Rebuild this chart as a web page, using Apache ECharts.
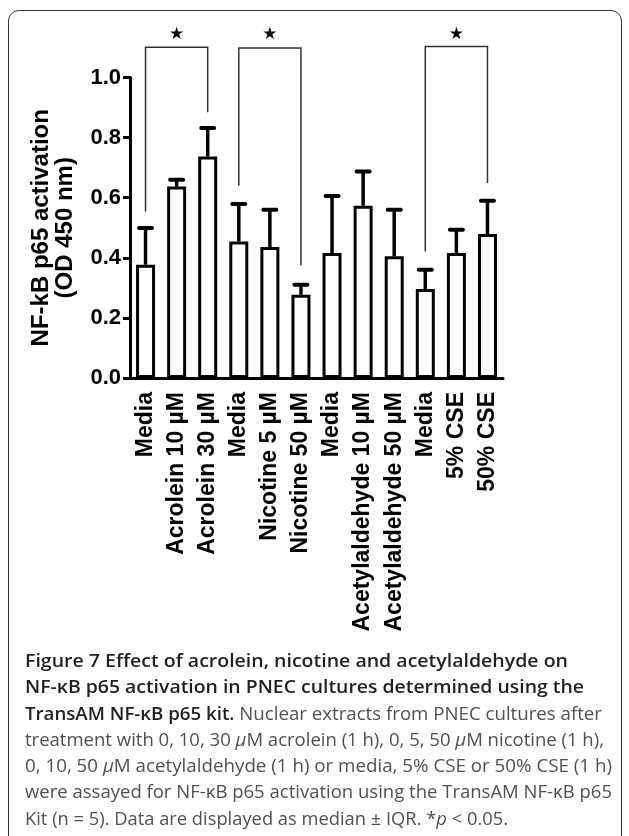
<!DOCTYPE html>
<html>
<head>
<meta charset="utf-8">
<script src="https://cdn.jsdelivr.net/npm/echarts@6/dist/echarts.min.js"></script>
<style>
  html, body { margin: 0; padding: 0; background: #fff; }
  #wrap { position: relative; width: 629px; height: 836px; overflow: hidden; }
  #box { position: absolute; left: 8px; top: 10px; width: 614px; height: 900px;
         border: 1.5px solid #333; border-radius: 11px; box-sizing: border-box; }
  #chart { position: absolute; left: 0; top: 0; width: 629px; height: 836px; }
  #caption { position: absolute; left: 25px; top: 647px; font-family: "Open Sans", "Noto Sans", sans-serif;
             font-size: 18px; line-height: 26.3px; color: #505050; }
  #caption .ln { white-space: nowrap; transform-origin: 0 0; display: block; width: max-content; }
  #caption b { color: #231f20; font-weight: 600; }
</style>
</head>
<body>
<div id="wrap">
  <div id="box"></div>
  <div id="chart"></div>
  <div id="caption">
    <div class="ln" data-w="543"><b>Figure 7 Effect of acrolein, nicotine and acetylaldehyde on</b></div>
    <div class="ln" data-w="559"><b>NF-κB p65 activation in PNEC cultures determined using the</b></div>
    <div class="ln" data-w="577"><b>TransAM NF-κB p65 kit.</b> Nuclear extracts from PNEC cultures after</div>
    <div class="ln" data-w="579">treatment with 0, 10, 30 <i>μ</i>M acrolein (1 h), 0, 5, 50 <i>μ</i>M nicotine (1 h),</div>
    <div class="ln" data-w="587">0, 10, 50 <i>μ</i>M acetylaldehyde (1 h) or media, 5% CSE or 50% CSE (1 h)</div>
    <div class="ln" data-w="587">were assayed for NF-κB p65 activation using the TransAM NF-κB p65</div>
    <div class="ln" data-w="483">Kit (n = 5). Data are displayed as median ± IQR. *<i>p</i> &lt; 0.05.</div>
  </div>
</div>
<script>
// ---- data ----
const categories = ['Media', 'Acrolein 10 µM', 'Acrolein 30 µM', 'Media', 'Nicotine 5 µM', 'Nicotine 50 µM',
                    'Media', 'Acetylaldehyde 10 µM', 'Acetylaldehyde 50 µM', 'Media', '5% CSE', '50% CSE'];
const medians = [0.377, 0.637, 0.737, 0.454, 0.436, 0.277, 0.416, 0.573, 0.405, 0.296, 0.416, 0.479];
const upperIQR = [0.499, 0.66, 0.832, 0.579, 0.56, 0.31, 0.606, 0.687, 0.56, 0.36, 0.493, 0.59];
// significance brackets: [from index, to index, left leg bottom, right leg bottom, bracket top]
const brackets = [
  [0, 2, 0.554, 0.884, 1.101],
  [3, 5, 0.640, 0.374, 1.098],
  [9, 11, 0.421, 0.649, 1.103]
];
const starLevel = 1.142;
const yTicks = [0, 0.2, 0.4, 0.6, 0.8, 1.0];

const FONT = '"Liberation Sans", Arial, sans-serif';
const chart = echarts.init(document.getElementById('chart'), null, { renderer: 'canvas' });

chart.setOption({
  animation: false,
  backgroundColor: 'transparent',
  grid: { left: 130, right: 126, top: 77.5, bottom: 458 },
  xAxis: {
    type: 'category',
    data: categories,
    axisLine: { lineStyle: { color: '#000', width: 3 } },
    axisTick: { alignWithLabel: true, length: 8, lineStyle: { color: '#000', width: 3 } },
    axisLabel: { rotate: 90, interval: 0, margin: 14, color: '#000', fontWeight: 'bold',
                 fontSize: 23, fontFamily: FONT }
  },
  yAxis: {
    type: 'value',
    min: yTicks[0], max: yTicks[yTicks.length - 1], interval: 0.2,
    name: 'NF-kB p65 activation\n(OD 450 nm)',
    nameLocation: 'middle', nameRotate: 90, nameGap: 53,
    nameTextStyle: { color: '#000', fontWeight: 'bold', fontSize: 24, fontFamily: FONT, lineHeight: 24 },
    axisLine: { show: true, lineStyle: { color: '#000', width: 3 } },
    axisTick: { show: true, length: 7, lineStyle: { color: '#000', width: 3 } },
    axisLabel: { color: '#000', fontWeight: 'bold', fontSize: 22, fontFamily: FONT, margin: 9,
                 formatter: v => v.toFixed(1) },
    splitLine: { show: false }
  },
  series: [
    {
      type: 'bar',
      data: medians,
      barWidth: 19,
      itemStyle: { color: '#fff', borderColor: '#000', borderWidth: 3 },
      z: 2
    },
    {
      type: 'custom',
      clip: false,
      z: 3,
      data: medians.map((m, i) => [i, m, upperIQR[i]]),
      renderItem: (params, api) => {
        const base = api.coord([api.value(0), api.value(1)]);
        const top = api.coord([api.value(0), api.value(2)]);
        return {
          type: 'group',
          children: [
            { type: 'line', shape: { x1: base[0], y1: base[1], x2: base[0], y2: top[1] },
              style: { stroke: '#000', lineWidth: 3.5 } },
            { type: 'line', shape: { x1: base[0] - 6.5, y1: top[1], x2: base[0] + 6.5, y2: top[1] },
              style: { stroke: '#000', lineWidth: 4, lineCap: 'round' } }
          ]
        };
      }
    },
    {
      type: 'custom',
      clip: false,
      z: 4,
      data: brackets.map(b => [b[0], b[1], b[2], b[3], b[4], starLevel]),
      renderItem: (params, api) => {
        const l = api.coord([api.value(0), api.value(2)]);
        const r = api.coord([api.value(1), api.value(3)]);
        const t = api.coord([api.value(0), api.value(4)]);
        const s = api.coord([(api.value(0) + api.value(1)) / 2, api.value(5)]);
        return {
          type: 'group',
          children: [
            { type: 'polyline', shape: { points: [[l[0], l[1]], [l[0], t[1]], [r[0], t[1]], [r[0], r[1]]] },
              style: { stroke: '#333', lineWidth: 1.5, fill: null } },
            { type: 'text', x: s[0], y: s[1],
              style: { text: '★', fontSize: 17, fill: '#000', align: 'center', verticalAlign: 'middle',
                       fontFamily: '"DejaVu Sans", sans-serif' } }
          ]
        };
      }
    }
  ]
});

// fit caption lines to their measured widths
document.querySelectorAll('#caption .ln').forEach(el => {
  const target = parseFloat(el.dataset.w);
  const w = el.getBoundingClientRect().width;
  if (w > 0) el.style.transform = 'scaleX(' + (target / w).toFixed(4) + ')';
});
</script>
</body>
</html>
